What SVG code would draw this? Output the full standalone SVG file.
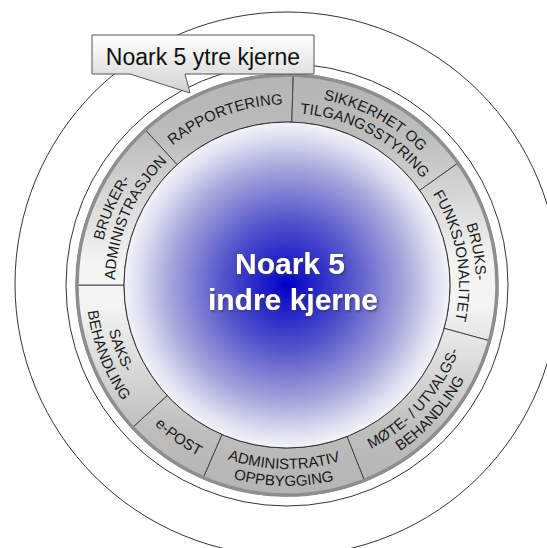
<svg xmlns="http://www.w3.org/2000/svg" width="547" height="548" viewBox="0 0 547 548">
<style>
.seg{fill:url(#ringGrad);stroke:#3a3a3a;stroke-width:0.9}
.lbl{font-family:"Liberation Sans",Arial,sans-serif;font-size:15px;fill:#1a1a1a}
.core{font-family:"Liberation Sans",Arial,sans-serif;font-size:30px;font-weight:bold;fill:#ffffff;text-anchor:middle;filter:url(#shadow)}
.ln{fill:none;stroke:#333;stroke-width:1}
</style>
<defs>
<linearGradient id="ringGrad" gradientUnits="userSpaceOnUse" x1="0" y1="74" x2="0" y2="496">
<stop offset="0" stop-color="#b4b4b4"/>
<stop offset="0.15" stop-color="#bdbdbd"/>
<stop offset="0.45" stop-color="#f4f4f4"/>
<stop offset="0.55" stop-color="#f4f4f4"/>
<stop offset="0.85" stop-color="#bdbdbd"/>
<stop offset="1" stop-color="#b4b4b4"/>
</linearGradient>
<radialGradient id="coreGrad" gradientUnits="userSpaceOnUse" cx="287" cy="285" r="163">
<stop offset="0" stop-color="#0000c8"/>
<stop offset="0.4" stop-color="#5555cc"/>
<stop offset="0.72" stop-color="#a6a6dc"/>
<stop offset="0.9" stop-color="#dcdcf0"/>
<stop offset="1" stop-color="#f4f4fa"/>
</radialGradient>
<linearGradient id="boxGrad" x1="0" y1="0" x2="0" y2="1">
<stop offset="0" stop-color="#ffffff"/>
<stop offset="1" stop-color="#d2d2d2"/>
</linearGradient>
<filter id="shadow" x="-10%" y="-20%" width="120%" height="140%">
<feDropShadow dx="1.5" dy="1.5" stdDeviation="0.8" flood-color="#404040" flood-opacity="0.9"/>
</filter>
<path id="tRapp" d="M109.05,254.74 A180.5,180.5 0 0 1 402.22,146.06"/>
<path id="tSikk1" d="M187.15,124.53 A189,189 0 0 1 475.90,278.73"/>
<path id="tSikk2" d="M196.13,138.97 A172,172 0 0 1 458.91,279.30"/>
<path id="tBruks1" d="M351.49,107.34 A189,189 0 0 1 408.61,429.68"/>
<path id="tBruks2" d="M345.69,123.32 A172,172 0 0 1 397.67,416.66"/>
<path id="tBruker1" d="M134.48,396.63 A189,189 0 0 1 266.59,97.11"/>
<path id="tBruker2" d="M148.20,386.58 A172,172 0 0 1 268.42,114.01"/>
<path id="tMote1" d="M249.06,465.05 A184,184 0 0 0 461.90,227.83"/>
<path id="tMote2" d="M245.55,481.68 A201,201 0 0 0 478.05,222.55"/>
<path id="tAdmin1" d="M126.15,374.36 A184,184 0 0 0 444.80,379.63"/>
<path id="tAdmin2" d="M111.29,382.62 A201,201 0 0 0 459.38,388.37"/>
<path id="tEpost" d="M95.35,266.88 A192.5,192.5 0 0 0 367.13,460.03"/>
<path id="tSaks1" d="M143.33,170.04 A184,184 0 0 0 259.33,466.91"/>
<path id="tSaks2" d="M130.06,159.42 A201,201 0 0 0 256.77,483.71"/>
</defs>
<rect width="547" height="548" fill="#ffffff"/>
<g id="outer-circles">
<circle class="ln" cx="287" cy="284" r="272"/>
<circle class="ln" cx="287" cy="285" r="221"/>
</g>
<g id="seg-rapportering">
<path class="seg" d="M144.72,129.18 A211,211 0 0 1 293.26,74.09 L291.84,122.07 A163,163 0 0 0 177.09,164.62 Z"/>
<text class="lbl"><textPath href="#tRapp" startOffset="50%" text-anchor="middle">RAPPORTERING</textPath></text>
</g>
<g id="seg-sikkerhet">
<path class="seg" d="M293.26,74.09 A211,211 0 0 1 458.78,162.47 L419.70,190.35 A163,163 0 0 0 291.84,122.07 Z"/>
<text class="lbl"><textPath href="#tSikk1" startOffset="50%" text-anchor="middle">SIKKERHET OG</textPath></text>
<text class="lbl"><textPath href="#tSikk2" startOffset="50%" text-anchor="middle">TILGANGSSTYRING</textPath></text>
</g>
<g id="seg-bruksfunksjonalitet">
<path class="seg" d="M458.78,162.47 A211,211 0 0 1 490.43,341.03 L444.15,328.29 A163,163 0 0 0 419.70,190.35 Z"/>
<text class="lbl"><textPath href="#tBruks1" startOffset="50%" text-anchor="middle">BRUKS-</textPath></text>
<text class="lbl"><textPath href="#tBruks2" startOffset="50%" text-anchor="middle">FUNKSJONALITET</textPath></text>
</g>
<g id="seg-mote">
<path class="seg" d="M490.43,341.03 A211,211 0 0 1 364.67,481.18 L347.00,436.55 A163,163 0 0 0 444.15,328.29 Z"/>
<text class="lbl"><textPath href="#tMote1" startOffset="50%" text-anchor="middle">MØTE- / UTVALGS-</textPath></text>
<text class="lbl"><textPath href="#tMote2" startOffset="50%" text-anchor="middle">BEHANDLING</textPath></text>
</g>
<g id="seg-administrativ">
<path class="seg" d="M364.67,481.18 A211,211 0 0 1 202.86,478.50 L222.00,434.48 A163,163 0 0 0 347.00,436.55 Z"/>
<text class="lbl"><textPath href="#tAdmin1" startOffset="50%" text-anchor="middle">ADMINISTRATIV</textPath></text>
<text class="lbl"><textPath href="#tAdmin2" startOffset="50%" text-anchor="middle">OPPBYGGING</textPath></text>
</g>
<g id="seg-epost">
<path class="seg" d="M202.86,478.50 A211,211 0 0 1 131.93,428.09 L167.21,395.54 A163,163 0 0 0 222.00,434.48 Z"/>
<text class="lbl"><textPath href="#tEpost" startOffset="50%" text-anchor="middle">e-POST</textPath></text>
</g>
<g id="seg-saksbehandling">
<path class="seg" d="M131.93,428.09 A211,211 0 0 1 76,285 L124,285 A163,163 0 0 0 167.21,395.54 Z"/>
<text class="lbl"><textPath href="#tSaks1" startOffset="50%" text-anchor="middle">SAKS-</textPath></text>
<text class="lbl"><textPath href="#tSaks2" startOffset="50%" text-anchor="middle">BEHANDLING</textPath></text>
</g>
<g id="seg-brukeradministrasjon">
<path class="seg" d="M76,285 A211,211 0 0 1 144.72,129.18 L177.09,164.62 A163,163 0 0 0 124,285 Z"/>
<text class="lbl"><textPath href="#tBruker1" startOffset="50%" text-anchor="middle">BRUKER-</textPath></text>
<text class="lbl"><textPath href="#tBruker2" startOffset="50%" text-anchor="middle">ADMINISTRASJON</textPath></text>
</g>
<g id="ring-edge">
<circle cx="287" cy="285" r="210" fill="none" stroke="#8e8e8e" stroke-width="3.5"/>
</g>
<g id="inner-core">
<circle cx="287" cy="285" r="163" fill="url(#coreGrad)" stroke="#333" stroke-width="1"/>
<text class="core" x="290" y="273.5">Noark 5</text>
<text class="core" x="293" y="309.5">indre kjerne</text>
</g>
<g id="callout">
<path d="M92,35 H314 V74 H185 L190,93 L130,74 H92 Z" fill="url(#boxGrad)" stroke="#555" stroke-width="1"/>
<text x="203" y="65" font-family="Liberation Sans, Arial, sans-serif" font-size="23" fill="#111" text-anchor="middle">Noark 5 ytre kjerne</text>
</g>
</svg>
